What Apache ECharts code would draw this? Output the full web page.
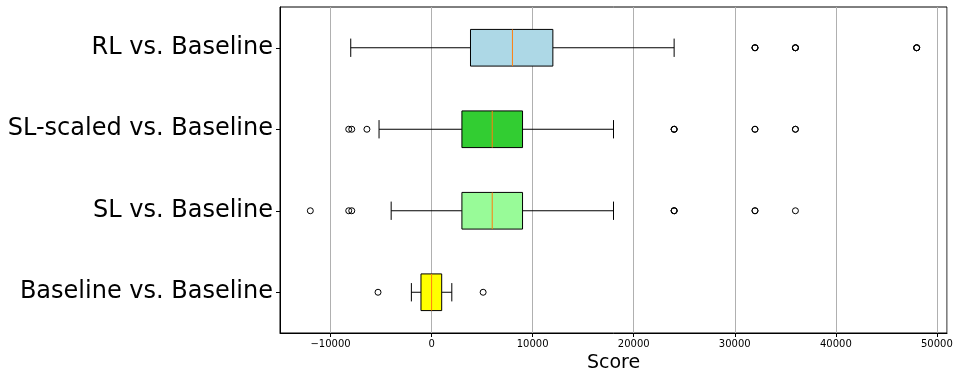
<!DOCTYPE html>
<html>
<head>
<meta charset="utf-8">
<script src="https://cdn.jsdelivr.net/npm/echarts@6/dist/echarts.min.js"></script>
<style>
  html, body { margin: 0; padding: 0; background: #fff; }
  #chart { width: 959px; height: 380px; }
</style>
</head>
<body>
<div id="chart"></div>
<script>
// categories bottom -> top
const categories = ['Baseline vs. Baseline', 'SL vs. Baseline', 'SL-scaled vs. Baseline', 'RL vs. Baseline']
const whiskerLow = [-2000, -4000, -5200, -8000]
const q1 = [-1050, 3000, 3000, 3850]
const median = [0, 6000, 6000, 8000]
const q3 = [1000, 9000, 9000, 12000]
const whiskerHigh = [2000, 18000, 18000, 24000]
// repeated values are overlapping fliers (they look bolder in the picture)
const outliers = [
  [-5300, 5100],
  [-12000, -8200, -7900, 24000, 24000, 24000, 32000, 32000, 36000],
  [-8200, -7900, -6400, 24000, 24000, 24000, 32000, 32000, 36000, 36000],
  [32000, 32000, 32000, 36000, 36000, 36000, 48000, 48000, 48000]
]
const boxColors = ['#ffff00', '#98fb98', '#32cd32', '#add8e6']

const boxData = categories.map((c, i) => [i, whiskerLow[i], q1[i], median[i], q3[i], whiskerHigh[i]])
const outlierData = []
outliers.forEach((arr, i) => arr.forEach(v => outlierData.push([v, i])))

const font = 'DejaVu Sans'

// draw one matplotlib-style box
const renderBox = (params, api) => {
  const idx = api.value(0)
  const band = api.size([0, 1])[1]
  const half = band * 0.45 / 2
  const cap = band * 0.225 / 2
  const pt = v => api.coord([v, idx])
  const y = pt(0)[1]
  const xLo = pt(api.value(1))[0]
  const xQ1 = pt(api.value(2))[0]
  const xMed = pt(api.value(3))[0]
  const xQ3 = pt(api.value(4))[0]
  const xHi = pt(api.value(5))[0]
  const line = { stroke: '#000', lineWidth: 1 }
  return {
    type: 'group',
    children: [
      { type: 'line', shape: { x1: xLo, y1: y, x2: xQ1, y2: y }, style: line },
      { type: 'line', shape: { x1: xQ3, y1: y, x2: xHi, y2: y }, style: line },
      { type: 'line', shape: { x1: xLo, y1: y - cap, x2: xLo, y2: y + cap }, style: line },
      { type: 'line', shape: { x1: xHi, y1: y - cap, x2: xHi, y2: y + cap }, style: line },
      { type: 'rect', shape: { x: xQ1, y: y - half, width: xQ3 - xQ1, height: half * 2 },
        style: { fill: boxColors[params.dataIndex], stroke: '#000', lineWidth: 1 } },
      { type: 'line', shape: { x1: xMed, y1: y - half, x2: xMed, y2: y + half },
        style: { stroke: '#ff7f0e', lineWidth: 1 } }
    ]
  }
}

const chart = echarts.init(document.getElementById('chart'))
chart.setOption({
  animation: false,
  backgroundColor: '#fff',
  textStyle: { fontFamily: font },
  grid: {
    left: 280, right: 12, top: 7, bottom: 47,
    show: true, borderColor: '#000', borderWidth: 1, backgroundColor: 'transparent'
  },
  xAxis: {
    type: 'value',
    min: -15000,
    max: 51000,
    minInterval: 10000,
    maxInterval: 10000,
    name: 'Score',
    nameLocation: 'middle',
    nameGap: 18,
    nameTextStyle: { fontSize: 19, color: '#000', fontFamily: font },
    axisLine: { show: true, onZero: false, lineStyle: { color: '#000', width: 1 } },
    axisTick: { show: true, length: 4, lineStyle: { color: '#000' } },
    axisLabel: {
      fontSize: 10, color: '#000', margin: 6, fontFamily: font,
      showMinLabel: false, showMaxLabel: false,
      formatter: v => (v < 0 ? '\u2212' + Math.abs(v) : String(v))
    },
    splitLine: { show: true, lineStyle: { color: '#b0b0b0', width: 1 } }
  },
  yAxis: {
    type: 'category',
    data: categories,
    axisLine: { show: true, onZero: false, lineStyle: { color: '#000', width: 1 } },
    axisTick: { show: true, alignWithLabel: true, length: 4, lineStyle: { color: '#000' } },
    axisLabel: { fontSize: 24, color: '#000', margin: 7, fontFamily: font },
    splitLine: { show: false }
  },
  series: [
    {
      type: 'custom',
      renderItem: renderBox,
      encode: { x: [1, 2, 3, 4, 5], y: 0 },
      data: boxData,
      z: 3
    },
    {
      type: 'scatter',
      data: outlierData,
      symbol: 'circle',
      symbolSize: 6,
      itemStyle: { color: 'rgba(0,0,0,0)', borderColor: '#000', borderWidth: 1, opacity: 1 },
      z: 4
    }
  ]
})
</script>
</body>
</html>
